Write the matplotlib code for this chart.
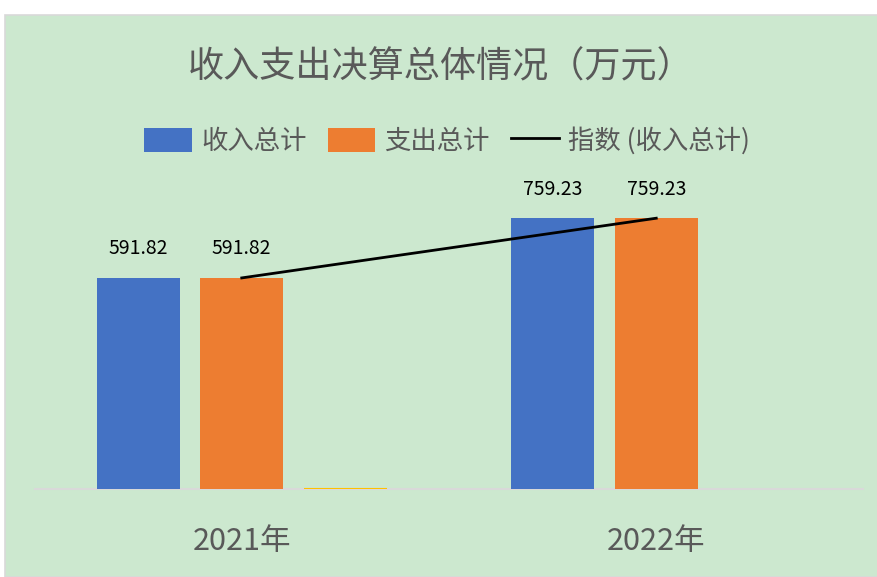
import numpy as np
import matplotlib
matplotlib.use("Agg")
import matplotlib.pyplot as plt
from matplotlib.patches import Patch, Rectangle
from matplotlib.lines import Line2D

plt.rcParams["font.family"] = ["Noto Sans CJK SC", "DejaVu Sans"]

# data
years = ["2021年", "2022年"]
income = [591.82, 759.23]
expense = [591.82, 759.23]
other = [0.0, np.nan]  # third (unnamed) series, only a flat line in 2021

title = "收入支出决算总体情况（万元）"
blue = "#4472C4"
orange = "#ED7D31"
yellow = "#FFC000"
green_bg = "#CCE8CF"
grey_txt = "#595959"

fig = plt.figure(figsize=(8.78, 5.77), dpi=100, facecolor="white")

# green chart area with a thin grey frame
fig.patches.append(Rectangle((5 / 878, 0), 1 - 5 / 878, (577 - 15) / 577,
                             transform=fig.transFigure, facecolor=green_bg,
                             edgecolor="#d9d9d9", linewidth=1.2, zorder=-1))

ax = fig.add_axes([34.5 / 878, 88 / 577, 829 / 878, 321 / 577])
ax.set_facecolor("none")
ax.set_zorder(2)

x = np.arange(len(years))
w = 0.2
step = 0.25
ax.bar(x - step, income, width=w, color=blue, zorder=3)
ax.bar(x, expense, width=w, color=orange, zorder=3)
ax.bar(x + step, other, width=w, color=yellow, edgecolor=yellow,
       linewidth=1.5, zorder=3)

# line series plotted at the category centres
ax.plot(x, income, color="black", linewidth=2, zorder=4)

for xi, v in zip(x - step, income):
    ax.text(xi, v + 52, f"{v:.2f}", ha="center", va="bottom", fontsize=14,
            color="black")
for xi, v in zip(x, expense):
    ax.text(xi, v + 52, f"{v:.2f}", ha="center", va="bottom", fontsize=14,
            color="black")

ax.set_xlim(-0.5, 1.5)
ax.set_ylim(0, 900)
ax.set_xticks(x)
ax.set_xticklabels(years, fontsize=22, color=grey_txt)
ax.tick_params(axis="x", length=0, pad=27)
ax.set_yticks([])
for s in ["top", "right", "left"]:
    ax.spines[s].set_visible(False)
ax.spines["bottom"].set_color("#d9d9d9")
ax.spines["bottom"].set_linewidth(1.5)

fig.text(441 / 878, 1 - 67 / 577, title, ha="center", va="center",
         fontsize=26, color=grey_txt)

handles = [Patch(facecolor=blue), Patch(facecolor=orange),
           Line2D([0], [0], color="black", linewidth=2)]
labels = ["收入总计", "支出总计", "指数 (收入总计)"]
fig.legend(handles, labels, loc="center", bbox_to_anchor=(447 / 878, 1 - 141 / 577),
           ncol=3, frameon=False, fontsize=19, labelcolor=grey_txt,
           handlelength=1.8, handleheight=1.0, handletextpad=0.35,
           columnspacing=0.8)

fig.savefig("out.png", dpi=100, facecolor="white")
